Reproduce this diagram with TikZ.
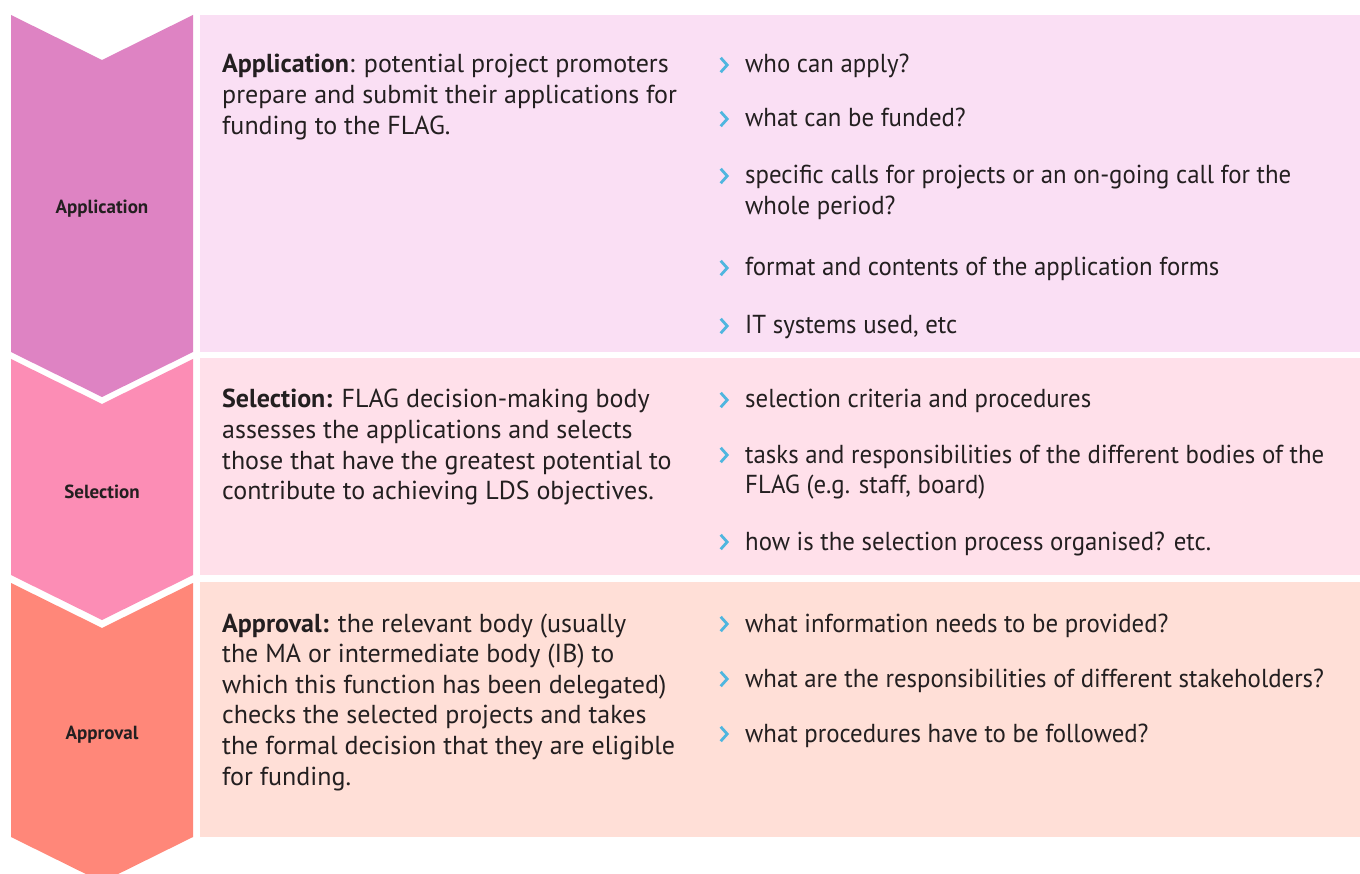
\documentclass[tikz,border=0pt]{standalone}
\usepackage{fontspec}
\setmainfont{PT Sans}
\newfontfamily\narrowfont[FakeStretch=0.955]{PT Sans}
\usetikzlibrary{calc}
\definecolor{chevA}{HTML}{DE83C3}
\definecolor{panA}{HTML}{FADFF4}
\definecolor{chevB}{HTML}{FC8DB5}
\definecolor{panB}{HTML}{FFE0EA}
\definecolor{chevC}{HTML}{FF8779}
\definecolor{panC}{HTML}{FFDFD7}
\definecolor{bulc}{HTML}{4FB6DF}
\definecolor{txt}{HTML}{231F20}
\tikzset{
  label/.style={text=txt,font=\fontsize{19}{22}\selectfont\bfseries,inner sep=0pt},
  para/.style={text=txt,anchor=base west,inner sep=0pt,font=\fontsize{26}{30.6}\selectfont},
  item/.style={text=txt,anchor=base west,inner sep=0pt,font=\narrowfont\fontsize{26}{30.6}\selectfont},
  bul/.pic={\draw[bulc,line width=2.8pt,line join=miter] (-3.3,-7.2)--(3.2,0)--(-3.3,7.2);}
}
\newcommand\itm[3]{\node[item] (#1) at (745,#2) {\parbox[t]{640pt}{\raggedright #3}};
  \pic at ($(#1.base west)+(-21,-8)$) {bul};}
\begin{document}
\begin{tikzpicture}[x=1pt,y=-1pt]
\useasboundingbox (0,0) rectangle (1360,874);
\fill[white] (0,0) rectangle (1360,874);
\begin{scope}
\clip (0,0) rectangle (1360,874);
% chevrons
\fill[chevA] (11,15) -- (102,60) -- (193,15) -- (193,352) -- (102,397) -- (11,352) -- cycle;
\fill[chevB] (11,359) -- (102,404) -- (193,359) -- (193,575) -- (102,620) -- (11,575) -- cycle;
\fill[chevC] (11,583) -- (102,628) -- (193,583) -- (193,837) -- (102,882) -- (11,837) -- cycle;
% panels
\fill[panA] (200,15) rectangle (1360,352);
\fill[panB] (200,358) rectangle (1360,575);
\fill[panC] (200,582) rectangle (1360,837);
\end{scope}
% labels
\node[label] (lA) at (102,209) {Application};
\node[label] (lB) at (102,492) {Selection};
\node[label] (lC) at (102,735) {Approval};
% paragraphs
\node[para] (pA) at (222,73) {\parbox[t]{480pt}{\raggedright\textbf{Application}: potential project promoters\\prepare and submit their applications for\\funding to the FLAG.}};
\node[para] (pB) at (222,408) {\parbox[t]{480pt}{\raggedright\textbf{Selection:} FLAG decision-making body\\assesses the applications and selects\\those that have the greatest potential to\\contribute to achieving LDS objectives.}};
\node[para] (pC) at (222,632) {\parbox[t]{480pt}{\raggedright\textbf{Approval:} the relevant body (usually\\the MA or intermediate body (IB) to\\which this function has been delegated)\\checks the selected projects and takes\\the formal decision that they are eligible\\for funding.}};
% items
\itm{a1}{73}{who can apply?}
\itm{a2}{127}{what can be funded?}
\itm{a3}{184}{specific calls for projects or an on-going call for the\\whole period?}
\itm{a4}{276}{format and contents of the application forms}
\itm{a5}{334}{IT systems used, etc}
\itm{b1}{408}{selection criteria and procedures}
\itm{b2}{463}{tasks and responsibilities of the different bodies of the\\FLAG (e.g. staff, board)}
\itm{b3}{550}{how is the selection process organised? etc.}
\itm{c1}{632}{what information needs to be provided?}
\itm{c2}{687}{what are the responsibilities of different stakeholders?}
\itm{c3}{742}{what procedures have to be followed?}
\end{tikzpicture}
\end{document}
